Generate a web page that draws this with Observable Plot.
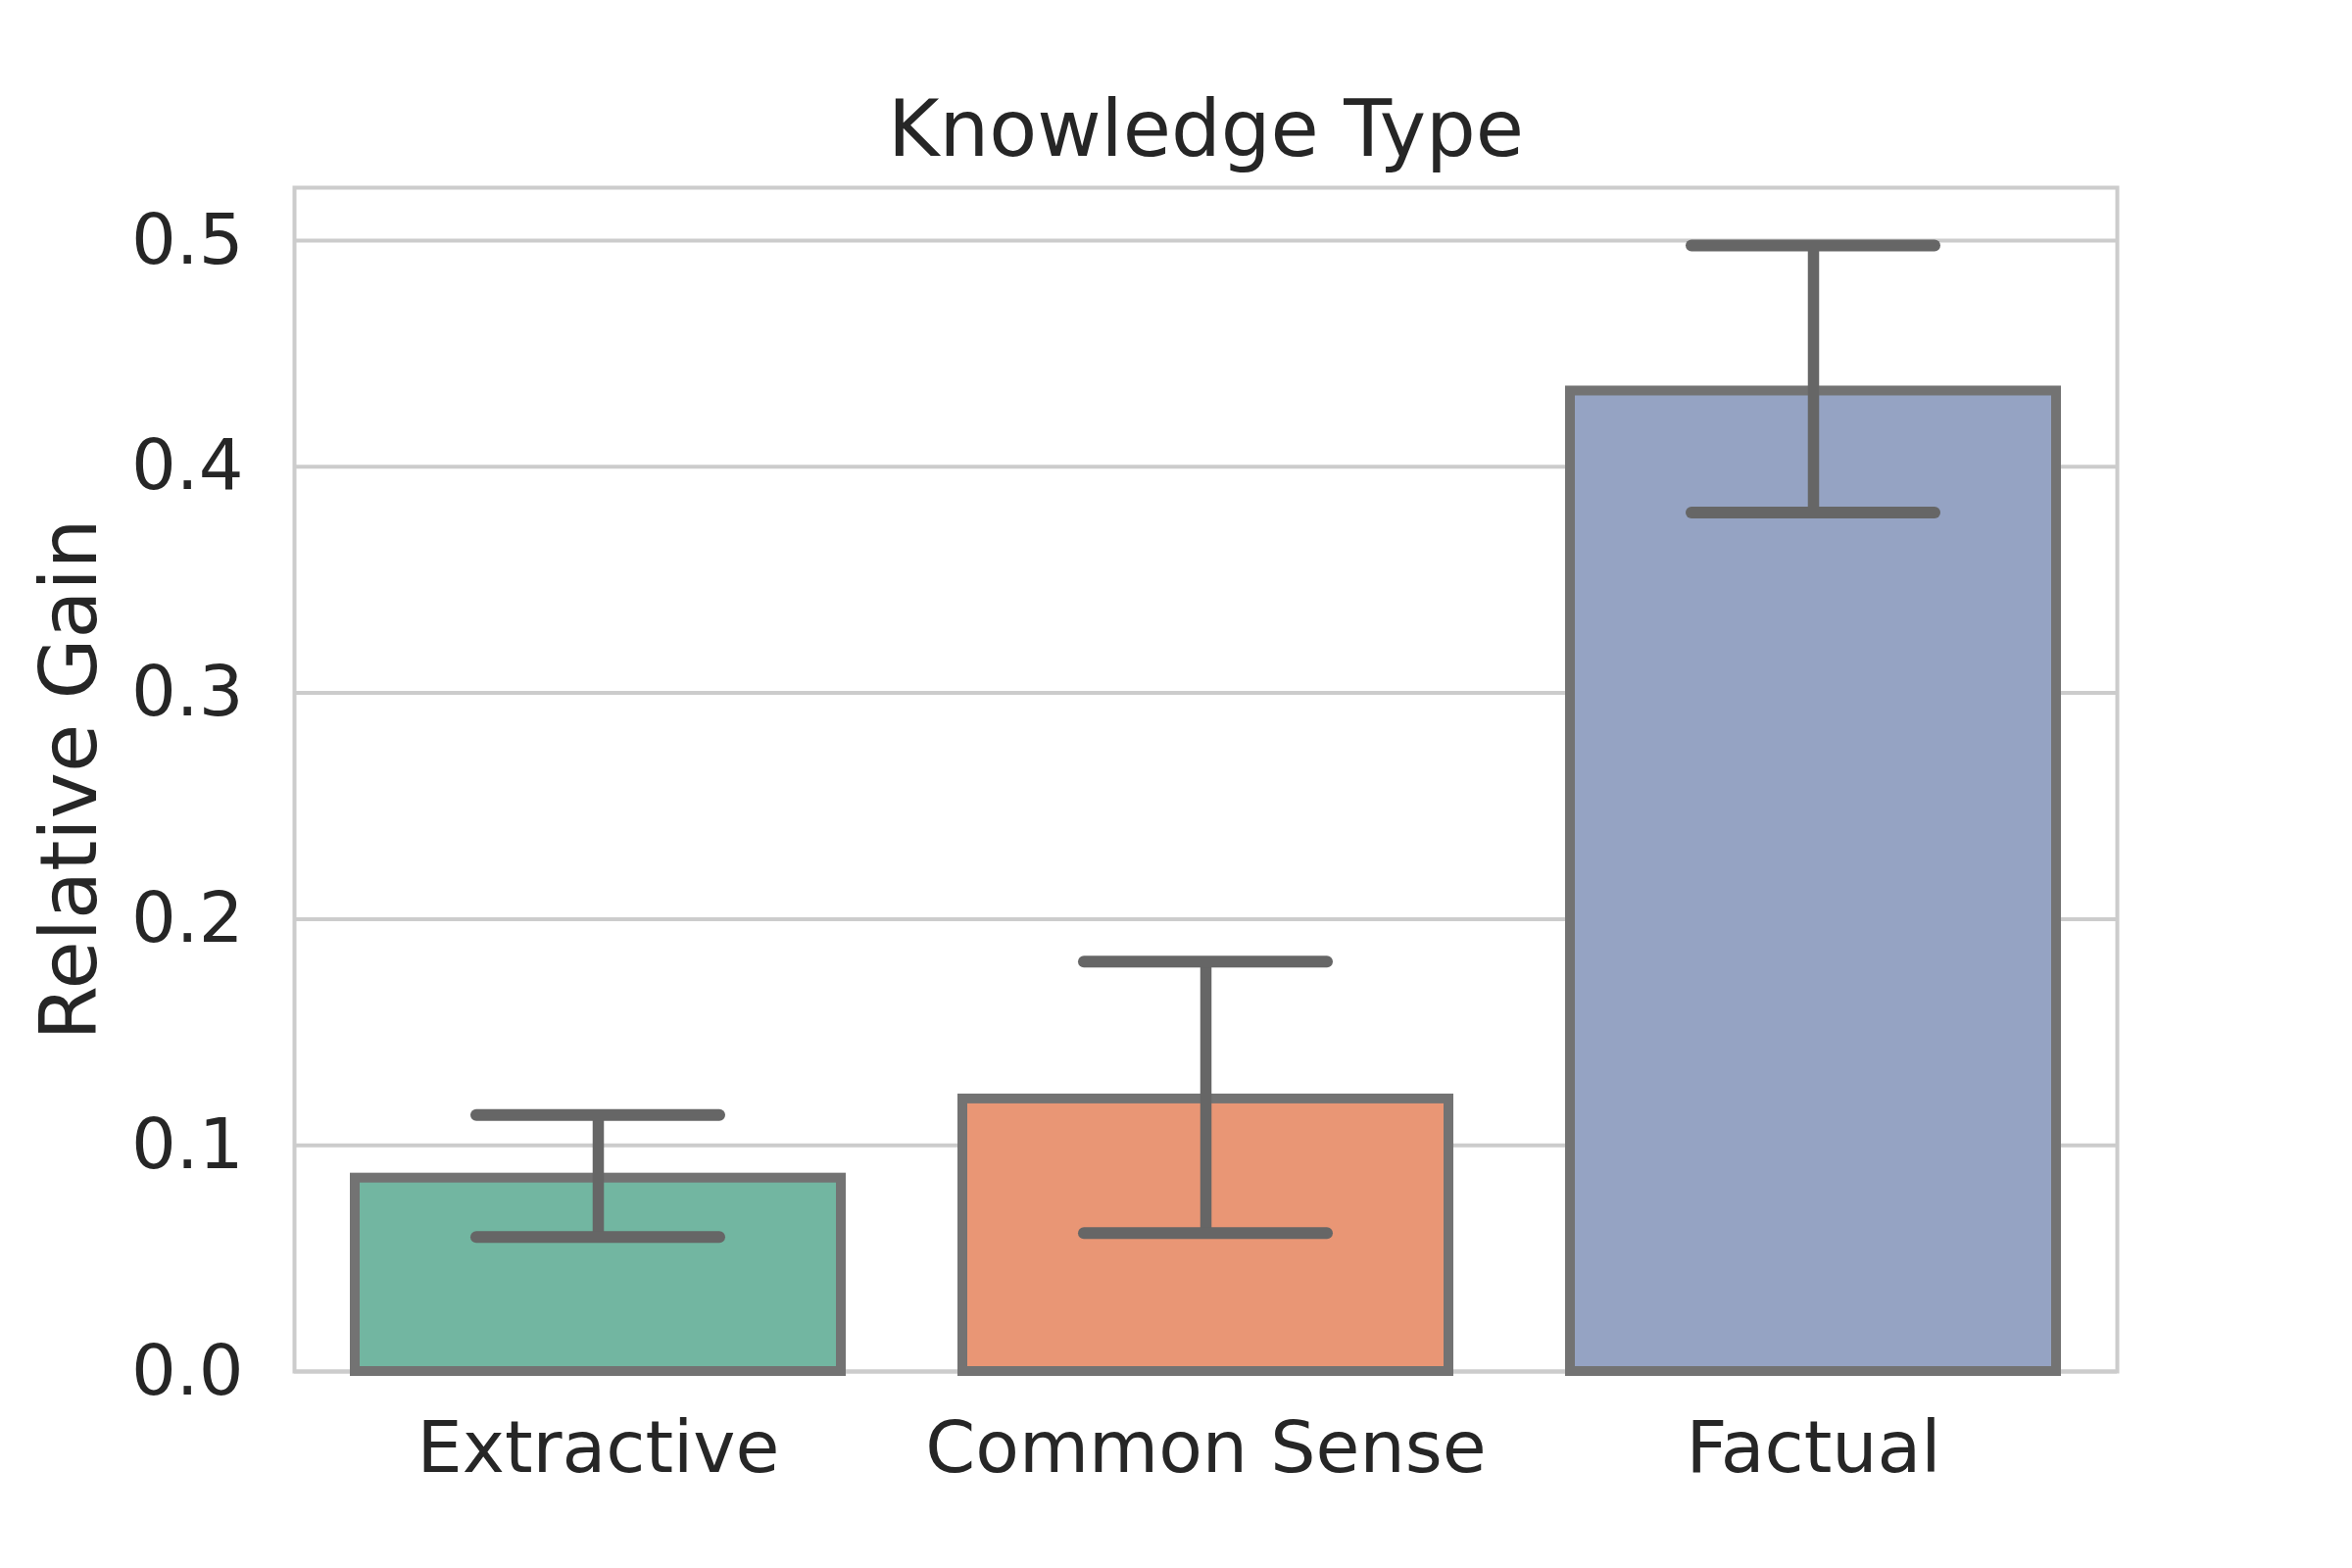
<!DOCTYPE html>
<html>
<head>
<meta charset="utf-8">
<script src="https://cdn.jsdelivr.net/npm/d3@7"></script>
<script src="https://cdn.jsdelivr.net/npm/@observablehq/plot@0.6"></script>
<style>
  html, body { margin: 0; padding: 0; background: white; }
</style>
</head>
<body>
<div id="chart"></div>
<script>
const categories = ["Extractive", "Common Sense", "Factual"];
const values = [0.0855, 0.1205, 0.4335];
const errLow = [0.0595, 0.0612, 0.3798];
const errHigh = [0.1134, 0.1812, 0.4978];
const barColors = ["#72b6a1", "#e99675", "#95a3c3"];
const yTicks = [0.0, 0.1, 0.2, 0.3, 0.4, 0.5];
const titleText = "Knowledge Type";
const yLabel = "Relative Gain";

const data = categories.map((c, i) => ({cat: c, value: values[i], lo: errLow[i], hi: errHigh[i], color: barColors[i]}));

const textColor = "#262626";

const chart = Plot.plot({
  width: 2400,
  height: 1600,
  marginLeft: 300,
  marginRight: 240,
  marginTop: 191,
  marginBottom: 201,
  style: {fontFamily: "DejaVu Sans", background: "white", color: textColor},
  x: {type: "band", domain: categories, paddingInner: 0.2, paddingOuter: 0.1},
  y: {domain: [0, 0.5234]},
  marks: [
    Plot.gridY(yTicks, {stroke: "#cccccc", strokeOpacity: 1, strokeWidth: 4}),
    Plot.frame({stroke: "#cccccc", strokeWidth: 4}),
    Plot.barY(data, {x: "cat", y: "value", fill: "color", stroke: "#737373", strokeWidth: 10}),
    Plot.ruleX(data, {x: "cat", y1: "lo", y2: "hi", stroke: "#666666", strokeWidth: 11.5}),
    Plot.tickY(data, {x: "cat", y: "lo", stroke: "#666666", strokeWidth: 12, strokeLinecap: "round", insetLeft: 124, insetRight: 124}),
    Plot.tickY(data, {x: "cat", y: "hi", stroke: "#666666", strokeWidth: 12, strokeLinecap: "round", insetLeft: 124, insetRight: 124}),
    Plot.axisY(yTicks, {tickFormat: d3.format(".1f"), tickSize: 0, tickPadding: 52, fontSize: 72, label: null, color: textColor}),
    Plot.axisX({tickSize: 0, tickPadding: 51, fontSize: 73, label: null, color: textColor}),
    Plot.text([titleText], {frameAnchor: "top", dy: -58, lineAnchor: "middle", textAnchor: "middle", fontSize: 80, fill: textColor}),
    Plot.text([yLabel], {frameAnchor: "left", dx: -228, rotate: -90, lineAnchor: "middle", textAnchor: "middle", fontSize: 80, fill: textColor})
  ]
});
document.getElementById("chart").appendChild(chart);
</script>
</body>
</html>
